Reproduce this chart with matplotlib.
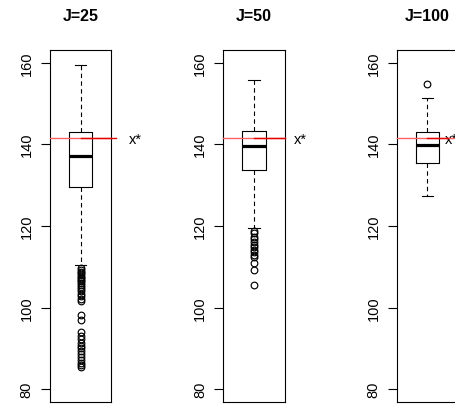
import matplotlib
matplotlib.use("Agg")
import matplotlib.pyplot as plt

plt.rcParams['font.family'] = ['Liberation Sans', 'DejaVu Sans']

# ---- data ----
panel_titles = ["J=25", "J=50", "J=100"]
whisker_low = [110.4, 119.5, 127.4]
box_q1 = [129.6, 133.6, 135.5]
box_median = [137.0, 139.5, 139.9]
box_q3 = [142.9, 143.3, 143.0]
whisker_high = [159.3, 155.8, 151.4]
outliers_j25 = [109.6, 109.2, 108.8, 108.4, 108.0, 107.6, 107.2, 106.8, 106.4,
                106.0, 105.5, 105.0, 104.5, 104.0, 103.4, 102.8, 102.2, 101.6,
                98.1, 96.9,
                94.0, 93.1, 92.2, 91.4, 90.7, 90.0, 89.3, 88.6, 87.9, 87.2,
                86.5, 85.9, 85.4]
outliers_j50 = [118.8, 118.2, 117.3, 116.7, 116.0, 115.4, 114.8, 114.2, 113.6,
                112.9, 112.3, 111.0, 109.2, 105.6]
outliers_j100 = [154.7]
x_star = 141.55
y_ticks = [80, 100, 120, 140, 160]
y_limits = (76.8, 163.2)

outlier_sets = [outliers_j25, outliers_j50, outliers_j100]

# layout (figure fractions / axes fractions)
W, H = 455, 406
ax_lefts_px = [50.0, 223.3, 396.7]
ax_w_px = 61.3
ax_top_px, ax_bot_px = 50.5, 403.3
line_end_ax = [1.077, 1.0, 0.837]
label_x_ax = [1.294, 1.158, 0.777]

fig = plt.figure(figsize=(W / 100, H / 100), dpi=100)

for i in range(3):
    ax = fig.add_axes([ax_lefts_px[i] / W, (H - ax_bot_px) / H,
                       ax_w_px / W, (ax_bot_px - ax_top_px) / H])
    stats = [dict(med=box_median[i], q1=box_q1[i], q3=box_q3[i],
                  whislo=whisker_low[i], whishi=whisker_high[i],
                  fliers=outlier_sets[i])]
    ax.bxp(stats, positions=[1], widths=0.38, capwidths=0.19,
           showfliers=True,
           boxprops=dict(color='black', linewidth=0.8),
           medianprops=dict(color='black', linewidth=2.3, solid_capstyle='butt'),
           whiskerprops=dict(color='black', linewidth=0.8, linestyle=(0, (4, 3))),
           capprops=dict(color='black', linewidth=0.8),
           flierprops=dict(marker='o', markersize=4.8, markerfacecolor='none',
                           markeredgecolor='black', markeredgewidth=0.85,
                           linestyle='none'))
    ax.set_xlim(0.5, 1.5)
    ax.set_ylim(*y_limits)
    ax.set_xticks([])
    ax.set_yticks(y_ticks)
    ax.set_yticklabels([str(t) for t in y_ticks])
    ax.tick_params(axis='y', length=6.7, width=0.8, pad=5, labelsize=10.5,
                   labelrotation=90, colors='black')
    for lab in ax.get_yticklabels():
        lab.set_va('center')
    for sp in ax.spines.values():
        sp.set_linewidth(0.8)
        sp.set_color('black')

    trans = ax.get_yaxis_transform()
    # light red full-width line and darker segment from box centre
    ax.plot([0, 1], [x_star, x_star], transform=trans, color='#ff6060',
            linewidth=1.0, zorder=5, clip_on=False)
    xc = 0.5
    ax.plot([xc, line_end_ax[i]], [x_star, x_star], transform=trans,
            color='#e00000', linewidth=1.0, zorder=6, clip_on=False)
    ax.text(label_x_ax[i], 140.4, "x*", transform=trans, fontsize=10.5,
            ha='left', va='baseline', clip_on=False)

    ax.set_title(panel_titles[i], fontsize=11.5, fontweight='bold', pad=21)

fig.savefig("out.png", dpi=100)
